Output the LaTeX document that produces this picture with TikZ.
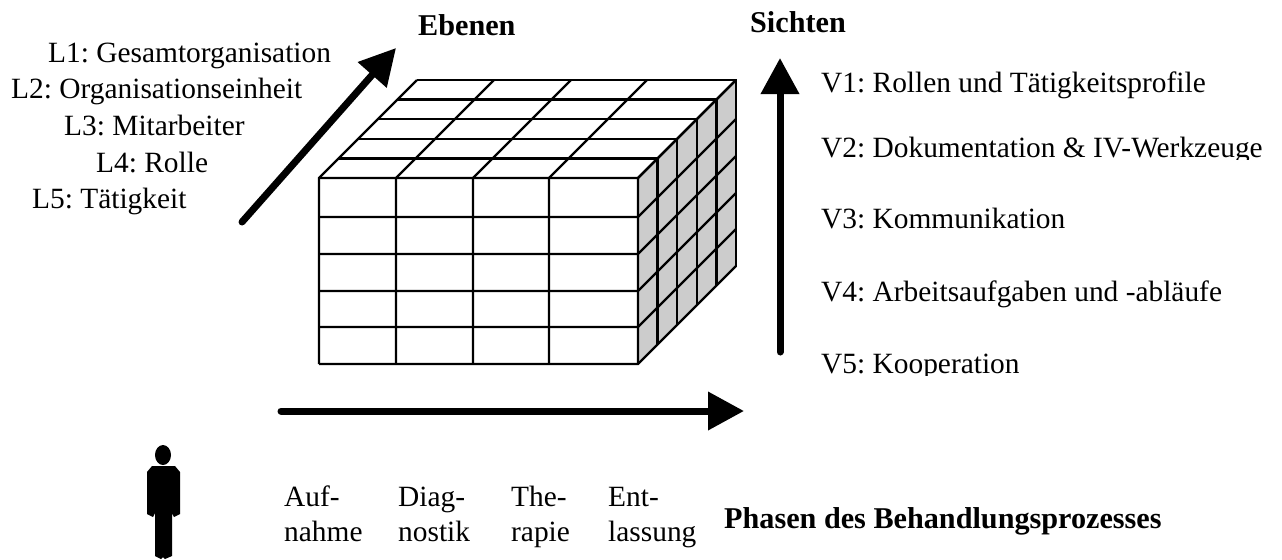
\documentclass[tikz,border=0pt]{standalone}
\usepackage{fontspec}
\setmainfont{Liberation Serif}
\usetikzlibrary{arrows.meta}
\frenchspacing

\begin{document}
\begin{tikzpicture}[x=.5pt, y=-.5pt, line width=1.2pt,
		lab/.style={anchor=base west, inner sep=0pt, font=\fontsize{14.7}{16}\selectfont},
		head/.style={lab, font=\fontsize{15.1}{17}\selectfont\bfseries},
		axis/.style={line width=3.5pt, line cap=round, -{Triangle[length=18pt, width=18.5pt]}}]
	\useasboundingbox (0,0) rectangle (1282,559);
	% cube
	\fill[gray!40] (638,178) -- (736,80) -- (736,267) -- (638,364) -- cycle;
	\foreach \y in {178,217,254,291,327,364} {
		\draw (319,\y) -- (638,\y) -- ++(98,-98);
	}
	\foreach \x in {319,396,473,549,638} {
		\draw (\x,364) -- (\x,178) -- ++(98,-98);
	}
	\foreach \i in {1,...,5} {
		\draw ({319+19.6*\i},{178-19.6*\i}) -- ({638+19.6*\i},{178-19.6*\i}) -- ++(0,{186.5});
	}
	% axes
	\coordinate (ebenenA) at (242,222);
	\coordinate (ebenenB) at (396,48);
	\coordinate (sichtenA) at (780,352);
	\coordinate (sichtenB) at (780,58);
	\coordinate (phasenA) at (281,411);
	\coordinate (phasenB) at (744,411);
	\draw[axis] (ebenenA) -- (ebenenB);
	\draw[axis] (sichtenA) -- (sichtenB);
	\draw[axis] (phasenA) -- (phasenB);
	% levels
	\node[head] (ebenen) at (417,35) {Ebenen};
	\node[lab] (l1) at (47,62) {L1: Gesamtorganisation};
	\node[lab] (l2) at (10,98) {L2: Organisationseinheit};
	\node[lab] (l3) at (63,135) {L3: Mitarbeiter};
	\node[lab] (l4) at (95,172) {L4: Rolle};
	\node[lab] (l5) at (31,208) {L5: Tätigkeit};
	% views
	\node[head] (sichten) at (749,32) {Sichten};
	\node[lab] (v1) at (820,92) {V1: Rollen und Tätigkeitsprofile};
	\node[lab] (v2) at (820,157) {V2: Dokumentation \& IV-Werkzeuge};
	\node[lab] (v3) at (820,228) {V3: Kommunikation};
	\node[lab] (v4) at (820,301) {V4: Arbeitsaufgaben und -abläufe};
	\node[lab] (v5) at (820,373) {V5: Kooperation};
	\fill[white] (815,160) rectangle (1282,172);
	\fill[white] (815,376) rectangle (1100,390);
	% phases
	\node[lab] (p1a) at (283,506) {Auf-};
	\node[lab] (p1b) at (283,541) {nahme};
	\node[lab] (p2a) at (397,506) {Diag-};
	\node[lab] (p2b) at (397,541) {nostik};
	\node[lab] (p3a) at (510,506) {The-};
	\node[lab] (p3b) at (510,541) {rapie};
	\node[lab] (p4a) at (607,506) {Ent-};
	\node[lab] (p4b) at (607,541) {lassung};
	\node[head] (phasen) at (723,528) {Phasen des Behandlungsprozesses};
	% person
	\fill (163,455) ellipse [x radius=8, y radius=10];
	\fill (152,466) -- (175,466) -- (180,472) -- (180,514) -- (174,517) -- (172,513)
		-- (172,556) -- (165,559) -- (163,557) -- (161,559) -- (155,556) -- (155,513)
		-- (153,517) -- (147,514) -- (147,472) -- cycle;
\end{tikzpicture}
\end{document}
